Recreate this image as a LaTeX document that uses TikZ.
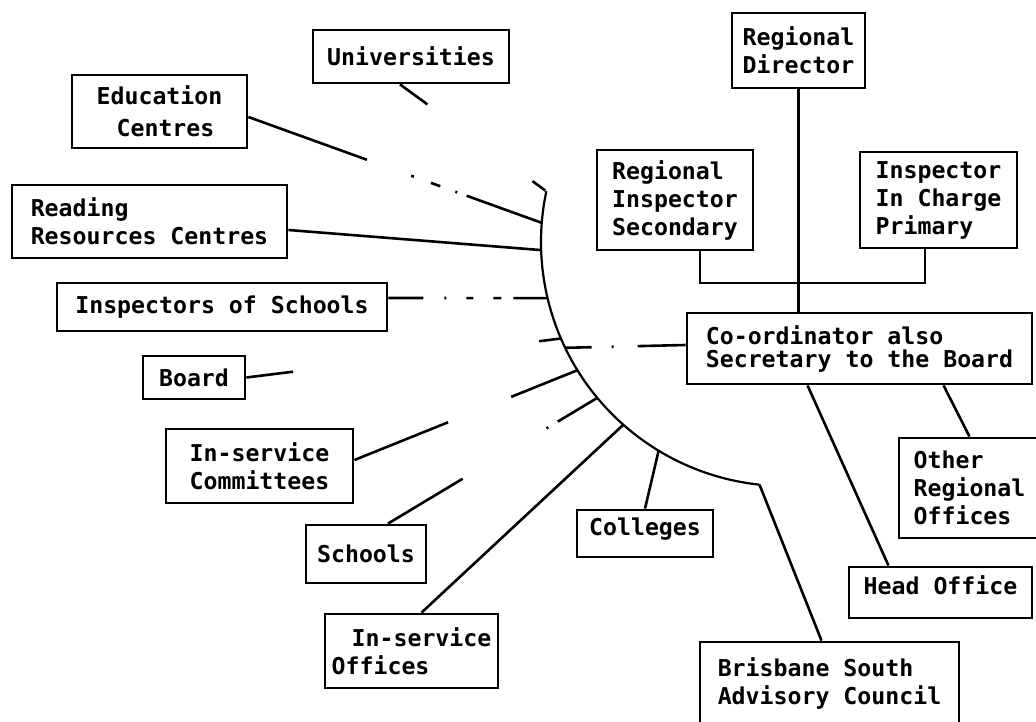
\documentclass[tikz,border=0pt]{standalone}
\usepackage{fontspec}
\setmonofont{DejaVu Sans Mono}
\begin{document}
\begin{tikzpicture}[x=0.5pt, y=-0.5pt,
  orgbox/.style={draw, line width=1.4pt, inner sep=0pt, align=left,
    font=\ttfamily\bfseries\fontsize{11.6}{14}\selectfont},
  link/.style={line width=1.3pt},
  rim/.style={line width=1.1pt}]

\path[use as bounding box, clip] (0,0) rectangle (1036,721);

% left side
\node[orgbox, minimum width=98pt, minimum height=26.5pt] (uni) at (411,56.5) {Universities};
\node[orgbox, align=center, minimum width=87.5pt, minimum height=36.5pt,
  font=\ttfamily\bfseries\fontsize{11.6}{16}\selectfont] (edu) at (159.5,111.5) {Education\\\hspace*{6pt}Centres};
\node[orgbox, minimum width=137.5pt, minimum height=36.5pt] (read) at (149.5,221.5) {Reading\\Resources Centres};
\node[orgbox, minimum width=165pt, minimum height=24pt] (insp) at (222,307) {Inspectors of Schools};
\node[orgbox, minimum width=51pt, minimum height=21.5pt] (board) at (194,377.5) {Board};
\node[orgbox, minimum width=93.5pt, minimum height=37pt] (comm) at (259.5,466) {In-service\\Committees};
\node[orgbox, minimum width=60pt, minimum height=29pt] (schools) at (366,554) {Schools};
\node[orgbox, minimum width=86.5pt, minimum height=37pt] (offices) at (411.5,651) {\hspace*{10pt}In-service\\Offices};
\node[orgbox, minimum width=68pt, minimum height=23.5pt, text depth=7pt] (coll) at (645,533.5) {Colleges};
\node[orgbox, minimum width=129.5pt, minimum height=41pt] (bris) at (829.5,683) {Brisbane South\\Advisory Council};

% right side
\node[orgbox, minimum width=66.5pt, minimum height=37.5pt] (rd) at (798.5,50.5) {Regional\\Director};
\node[orgbox, minimum width=78pt, minimum height=50pt] (ris) at (675,200) {Regional\\Inspector\\Secondary};
\node[orgbox, minimum width=78.5pt, minimum height=48pt] (iicp) at (938.5,200) {Inspector\\In Charge\\Primary};
\node[orgbox, minimum width=172.5pt, minimum height=35.5pt,
  font=\ttfamily\bfseries\fontsize{11.6}{11.5}\selectfont] (coord) at (859.5,348.5) {Co-ordinator also\\Secretary to the Board};
\node[orgbox, minimum width=70.5pt, minimum height=50pt] (other) at (969.5,488) {Other\\Regional\\Offices};
\node[orgbox, minimum width=91.5pt, minimum height=25.5pt, text depth=7pt] (head) at (940.5,592.5) {Head Office};

% the rim
\coordinate (hub) at (785,242);
\foreach \n/\a in {uni/168, edu/175.5, read/181.9, insp/193.3, board/203.3, coord/205.7,
                   comm/211.7, schools/219.7, offices/228.5, coll/238.8, bris/264}
  \path (hub) ++(\a:122pt) coordinate (h-\n);
\draw[rim] (h-uni) arc[start angle=168, end angle=264, radius=122pt];

% spokes (faded ones broken)
\draw[link, dash pattern=on 17pt off 65pt on 8pt] ([xshift=-5.5pt]uni.south) -- (h-uni);
\draw[link, dash pattern=on 63pt off 23.5pt on 1.5pt off 9pt on 5pt off 8pt on 1pt off 5pt on 41pt]
  ([yshift=-2.75pt]edu.east) -- (h-edu);
\draw[link] ([yshift=-4.25pt]read.east) -- (h-read);
\draw[link, dash pattern=on 17.5pt off 10.5pt on 1pt off 10pt on 3.5pt off 10pt on 4pt off 6pt on 18pt]
  ([yshift=4.5pt]insp.east) -- (h-insp);
\draw[link, dash pattern=on 23.5pt off 124pt on 11pt] (board.east) -- (h-board);
\draw[link, dash pattern=on 24pt off 12pt on 1pt off 10pt on 14pt] ([yshift=1.75pt]coord.west) -- (h-coord);
\draw[link, dash pattern=on 50.5pt off 34pt on 36.5pt] ([yshift=3pt]comm.east) -- (h-comm);
\draw[link, dash pattern=on 43.5pt off 49pt on 1pt off 5.5pt on 22.5pt] ([xshift=11pt]schools.north) -- (h-schools);
\draw[link] ([xshift=5pt]offices.north) -- (h-offices);
\draw[link] (coll.north) -- (h-coll);
\draw[link] (h-bris) -- ([xshift=-4pt]bris.north);

% regional office
\coordinate (join) at (798.5,283);
\draw[link] (rd.south) -- (rd.south |- coord.north);
\draw[link] ([xshift=12.5pt]ris.south) |- (join) -| ([xshift=-6.75pt]iicp.south);
\draw[link] ([xshift=-26pt]coord.south) -- ([xshift=-26pt]head.north);
\draw[link] ([xshift=42pt]coord.south) -- (other.north);

\end{tikzpicture}
\end{document}
